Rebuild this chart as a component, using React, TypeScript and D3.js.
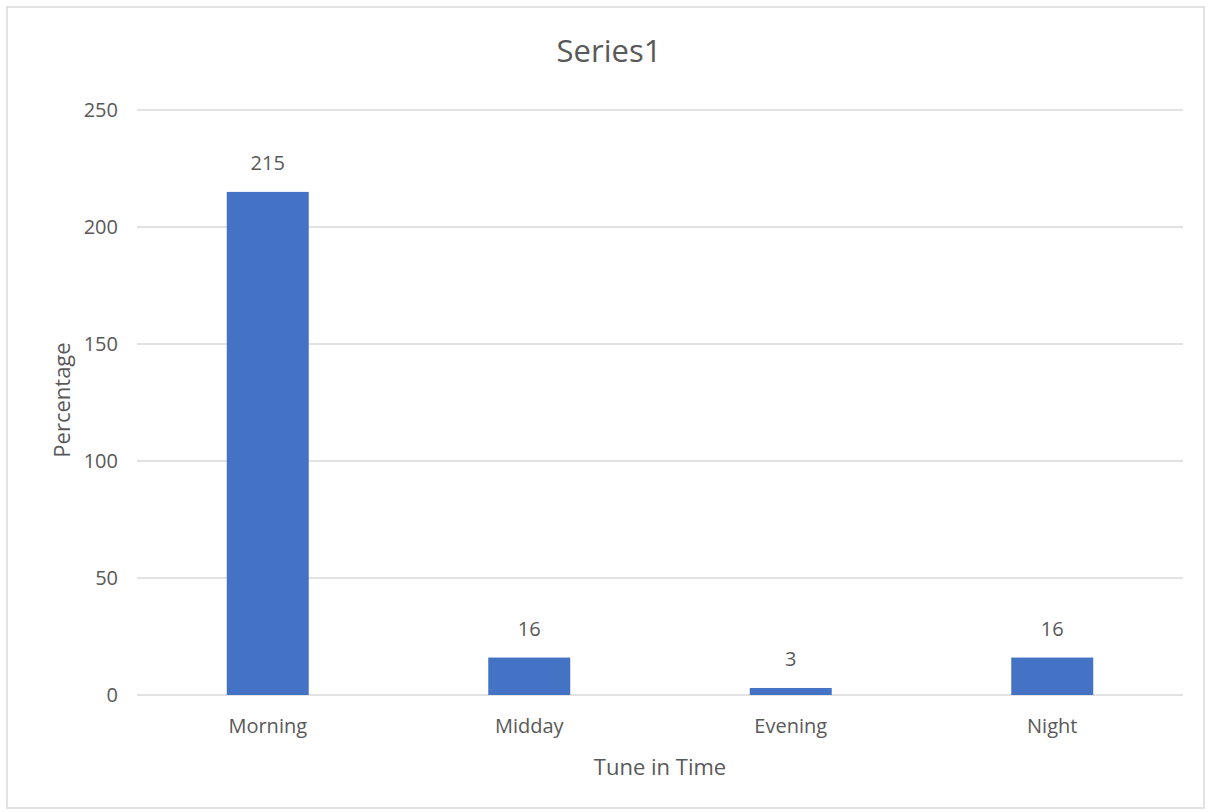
import React from "react";
import * as d3 from "d3";

// Tune-in time counts per part of the day
const categories: string[] = ["Morning", "Midday", "Evening", "Night"];
const values: number[] = [215, 16, 3, 16];
const yTicks: number[] = [0, 50, 100, 150, 200, 250];

const chartTitle = "Series1";
const xTitle = "Tune in Time";
const yTitle = "Percentage";

const W = 1209;
const H = 812;
const plot = { left: 137, right: 1183, top: 110, bottom: 695 };
const font = "'Open Sans', 'Noto Sans', sans-serif";
const textColor = "#595959";
const gridColor = "#D9D9D9";
const barColor = "#4472C4";

export default function App() {
  const x = d3
    .scaleBand<string>()
    .domain(categories)
    .range([plot.left, plot.right])
    .paddingInner(0)
    .paddingOuter(0);
  const y = d3.scaleLinear().domain([0, 250]).range([plot.bottom, plot.top]);
  const barW = x.step() / 3.19;
  const cx = (c: string) => (x(c) ?? 0) + x.bandwidth() / 2;

  return (
    <svg
      width={W}
      height={H}
      style={{ position: "absolute", left: 0, top: 0, background: "#fff" }}
      fontFamily={font}
    >
      <rect x={0} y={0} width={W} height={H} fill="#fff" />
      <rect x={7} y={7} width={1197} height={801} fill="#fff" stroke={gridColor} strokeWidth={1.5} />

      <text x={609} y={62} textAnchor="middle" fontSize={31} fill={textColor}>
        {chartTitle}
      </text>

      {yTicks.map((t) => (
        <g key={t}>
          <line
            x1={plot.left}
            x2={plot.right}
            y1={y(t)}
            y2={y(t)}
            stroke={gridColor}
            strokeWidth={1.5}
          />
          <text x={118} y={y(t) + 7} textAnchor="end" fontSize={20} fill={textColor}>
            {t}
          </text>
        </g>
      ))}

      {categories.map((c, i) => (
        <g key={c}>
          <rect
            x={cx(c) - barW / 2}
            y={y(values[i])}
            width={barW}
            height={y(0) - y(values[i])}
            fill={barColor}
          />
          <text x={cx(c)} y={y(values[i]) - 22} textAnchor="middle" fontSize={20} fill={textColor}>
            {values[i]}
          </text>
          <text x={cx(c)} y={733} textAnchor="middle" fontSize={20} fill={textColor}>
            {c}
          </text>
        </g>
      ))}

      <text x={660} y={775} textAnchor="middle" fontSize={22} fill={textColor}>
        {xTitle}
      </text>
      <text
        transform={`translate(70, 400) rotate(-90)`}
        textAnchor="middle"
        fontSize={22}
        fill={textColor}
      >
        {yTitle}
      </text>
    </svg>
  );
}
